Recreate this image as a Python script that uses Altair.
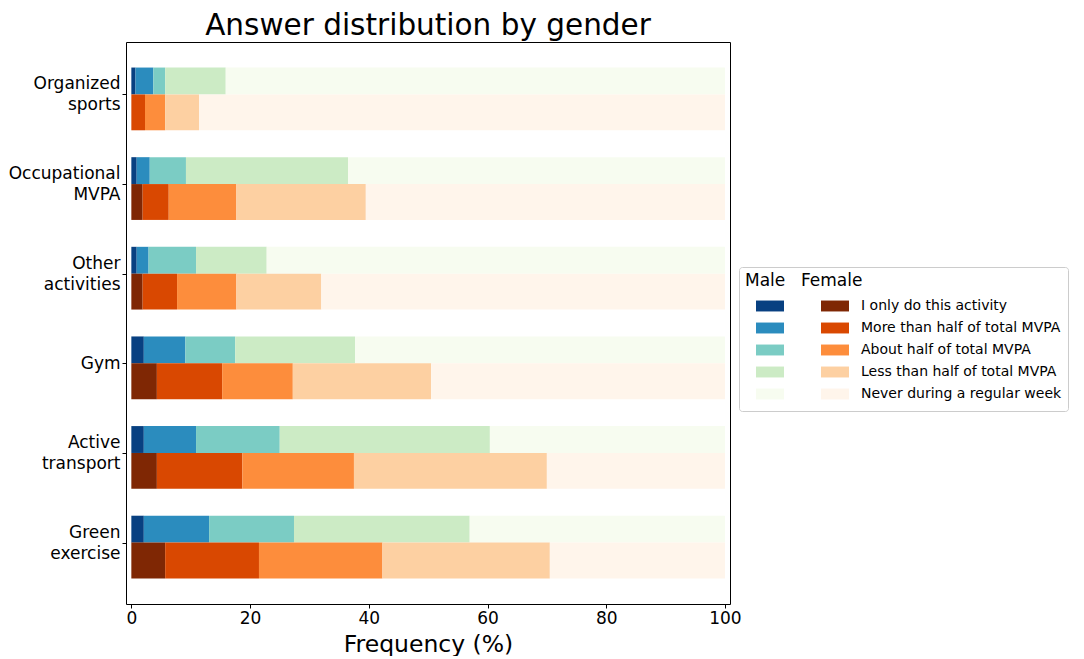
import altair as alt
import pandas as pd

categories = ["Organized sports", "Occupational MVPA", "Other activities",
              "Gym", "Active transport", "Green exercise"]
category_lines = [["Organized", "sports"], ["Occupational", "MVPA"],
                  ["Other", "activities"], ["Gym"], ["Active", "transport"],
                  ["Green", "exercise"]]
levels = ["I only do this activity", "More than half of total MVPA",
          "About half of total MVPA", "Less than half of total MVPA",
          "Never during a regular week"]

male_only = [0.7, 0.9, 0.9, 2.1, 2.1, 2.1]
male_more = [3.0, 2.2, 2.0, 7.0, 8.8, 11.0]
male_about = [2.0, 6.1, 8.0, 8.4, 14.1, 14.3]
male_less = [10.2, 27.3, 11.9, 20.2, 35.4, 29.6]
male_never = [84.1, 63.5, 77.2, 62.3, 39.6, 43.0]

female_only = [0.0, 1.9, 1.9, 4.3, 4.3, 5.7]
female_more = [2.3, 4.4, 5.8, 11.0, 14.4, 15.8]
female_about = [3.4, 11.4, 10.0, 11.9, 18.8, 20.8]
female_less = [5.7, 21.8, 14.3, 23.3, 32.5, 28.2]
female_never = [88.6, 60.5, 68.0, 49.5, 30.0, 29.5]

male_colors = ["#084081", "#2b8cbe", "#7bccc4", "#ccebc5", "#f7fcf0"]
female_colors = ["#7f2704", "#d94801", "#fd8d3c", "#fdd0a2", "#fff5eb"]

FONT = "DejaVu Sans"


def build(series, offset_top, offset_bottom):
    rows = []
    for i, cat in enumerate(categories):
        start = 0.0
        for lvl, vals in zip(levels, series):
            v = vals[i]
            rows.append({"category": cat, "level": lvl, "value": v,
                         "start": start, "end": start + v,
                         "y0": i + offset_top, "y1": i + offset_bottom})
            start += v
    return pd.DataFrame(rows)


male_df = build([male_only, male_more, male_about, male_less, male_never], -0.3, 0.0)
female_df = build([female_only, female_more, female_about, female_less, female_never], 0.0, 0.4)

label_expr = "[" + ",".join(
    "[" + ",".join("'" + s + "'" for s in lines) + "]" for lines in category_lines
) + "][datum.value]"
single_line_test = " || ".join(
    "datum.value == %d" % i for i, lines in enumerate(category_lines) if len(lines) == 1
)

x_enc = alt.X("start:Q",
              scale=alt.Scale(domain=[-0.9, 100.85], nice=False, zero=False),
              axis=alt.Axis(values=[0, 20, 40, 60, 80, 100], title="Frequency (%)",
                            grid=False, domain=False, tickColor="black", tickSize=4,
                            labelFontSize=17, labelFont=FONT, labelColor="black",
                            labelPadding=2, titleFontSize=23.5, titleFont=FONT,
                            titleFontWeight="normal", titleColor="black",
                            titlePadding=6))
y_enc = alt.Y("y0:Q",
              scale=alt.Scale(domain=[-0.585, 5.685], nice=False, zero=False, reverse=True),
              axis=alt.Axis(values=[0, 1, 2, 3, 4, 5], labelExpr=label_expr, title=None,
                            grid=False, domain=False, tickColor="black", tickSize=4,
                            labelFontSize=17, labelFont=FONT, labelColor="black",
                            labelPadding=2, labelLineHeight=21, labelBaseline="middle",
                            labelOffset={"condition": {"test": single_line_test, "value": 0},
                                         "value": -10.5}))

symbol_path = "M-1,-0.39H1V0.39H-1Z"

male_layer = alt.Chart(male_df).mark_rect().encode(
    x=x_enc, x2="end:Q", y=y_enc, y2="y1:Q",
    color=alt.Color("level:N",
                    scale=alt.Scale(domain=levels, range=male_colors),
                    legend=alt.Legend(title="Male", orient="none", legendX=613, legendY=225,
                                      symbolType=symbol_path, symbolSize=784,
                                      symbolOffset=11, symbolStrokeWidth=0,
                                      labelOffset=77, labelFontSize=14, labelFont=FONT,
                                      labelColor="black", labelLimit=400,
                                      labelExpr="datum.label + '\u00a0\u00a0\u00a0'",
                                      titleFontSize=17, titleFont=FONT,
                                      titleFontWeight="normal", titleColor="black",
                                      titlePadding=5, strokeColor="#cccccc",
                                      padding=6, cornerRadius=3,
                                      clipHeight=22, rowPadding=0)),
)

female_layer = alt.Chart(female_df).mark_rect().encode(
    x=x_enc, x2="end:Q", y=y_enc, y2="y1:Q",
    color=alt.Color("level:N",
                    scale=alt.Scale(domain=levels, range=female_colors),
                    legend=alt.Legend(title="Female", orient="none", legendX=669, legendY=225,
                                      symbolType=symbol_path, symbolSize=784,
                                      symbolOffset=20, symbolStrokeWidth=0,
                                      labelExpr="''", labelFontSize=14, labelFont=FONT,
                                      titleFontSize=17, titleFont=FONT,
                                      titleFontWeight="normal", titleColor="black",
                                      titlePadding=5, padding=6,
                                      clipHeight=22, rowPadding=0)),
)

chart = alt.layer(male_layer, female_layer).resolve_scale(color="independent").properties(
    width=604, height=562,
    title=alt.TitleParams("Answer distribution by gender", fontSize=29.5, font=FONT,
                          fontWeight="normal", color="black", anchor="middle", offset=1),
    padding={"left": 0, "top": 2, "right": 0, "bottom": 0},
).configure_view(stroke="black", strokeWidth=1)

chart.save("out.html", embed_options={"renderer": "svg", "actions": False})
